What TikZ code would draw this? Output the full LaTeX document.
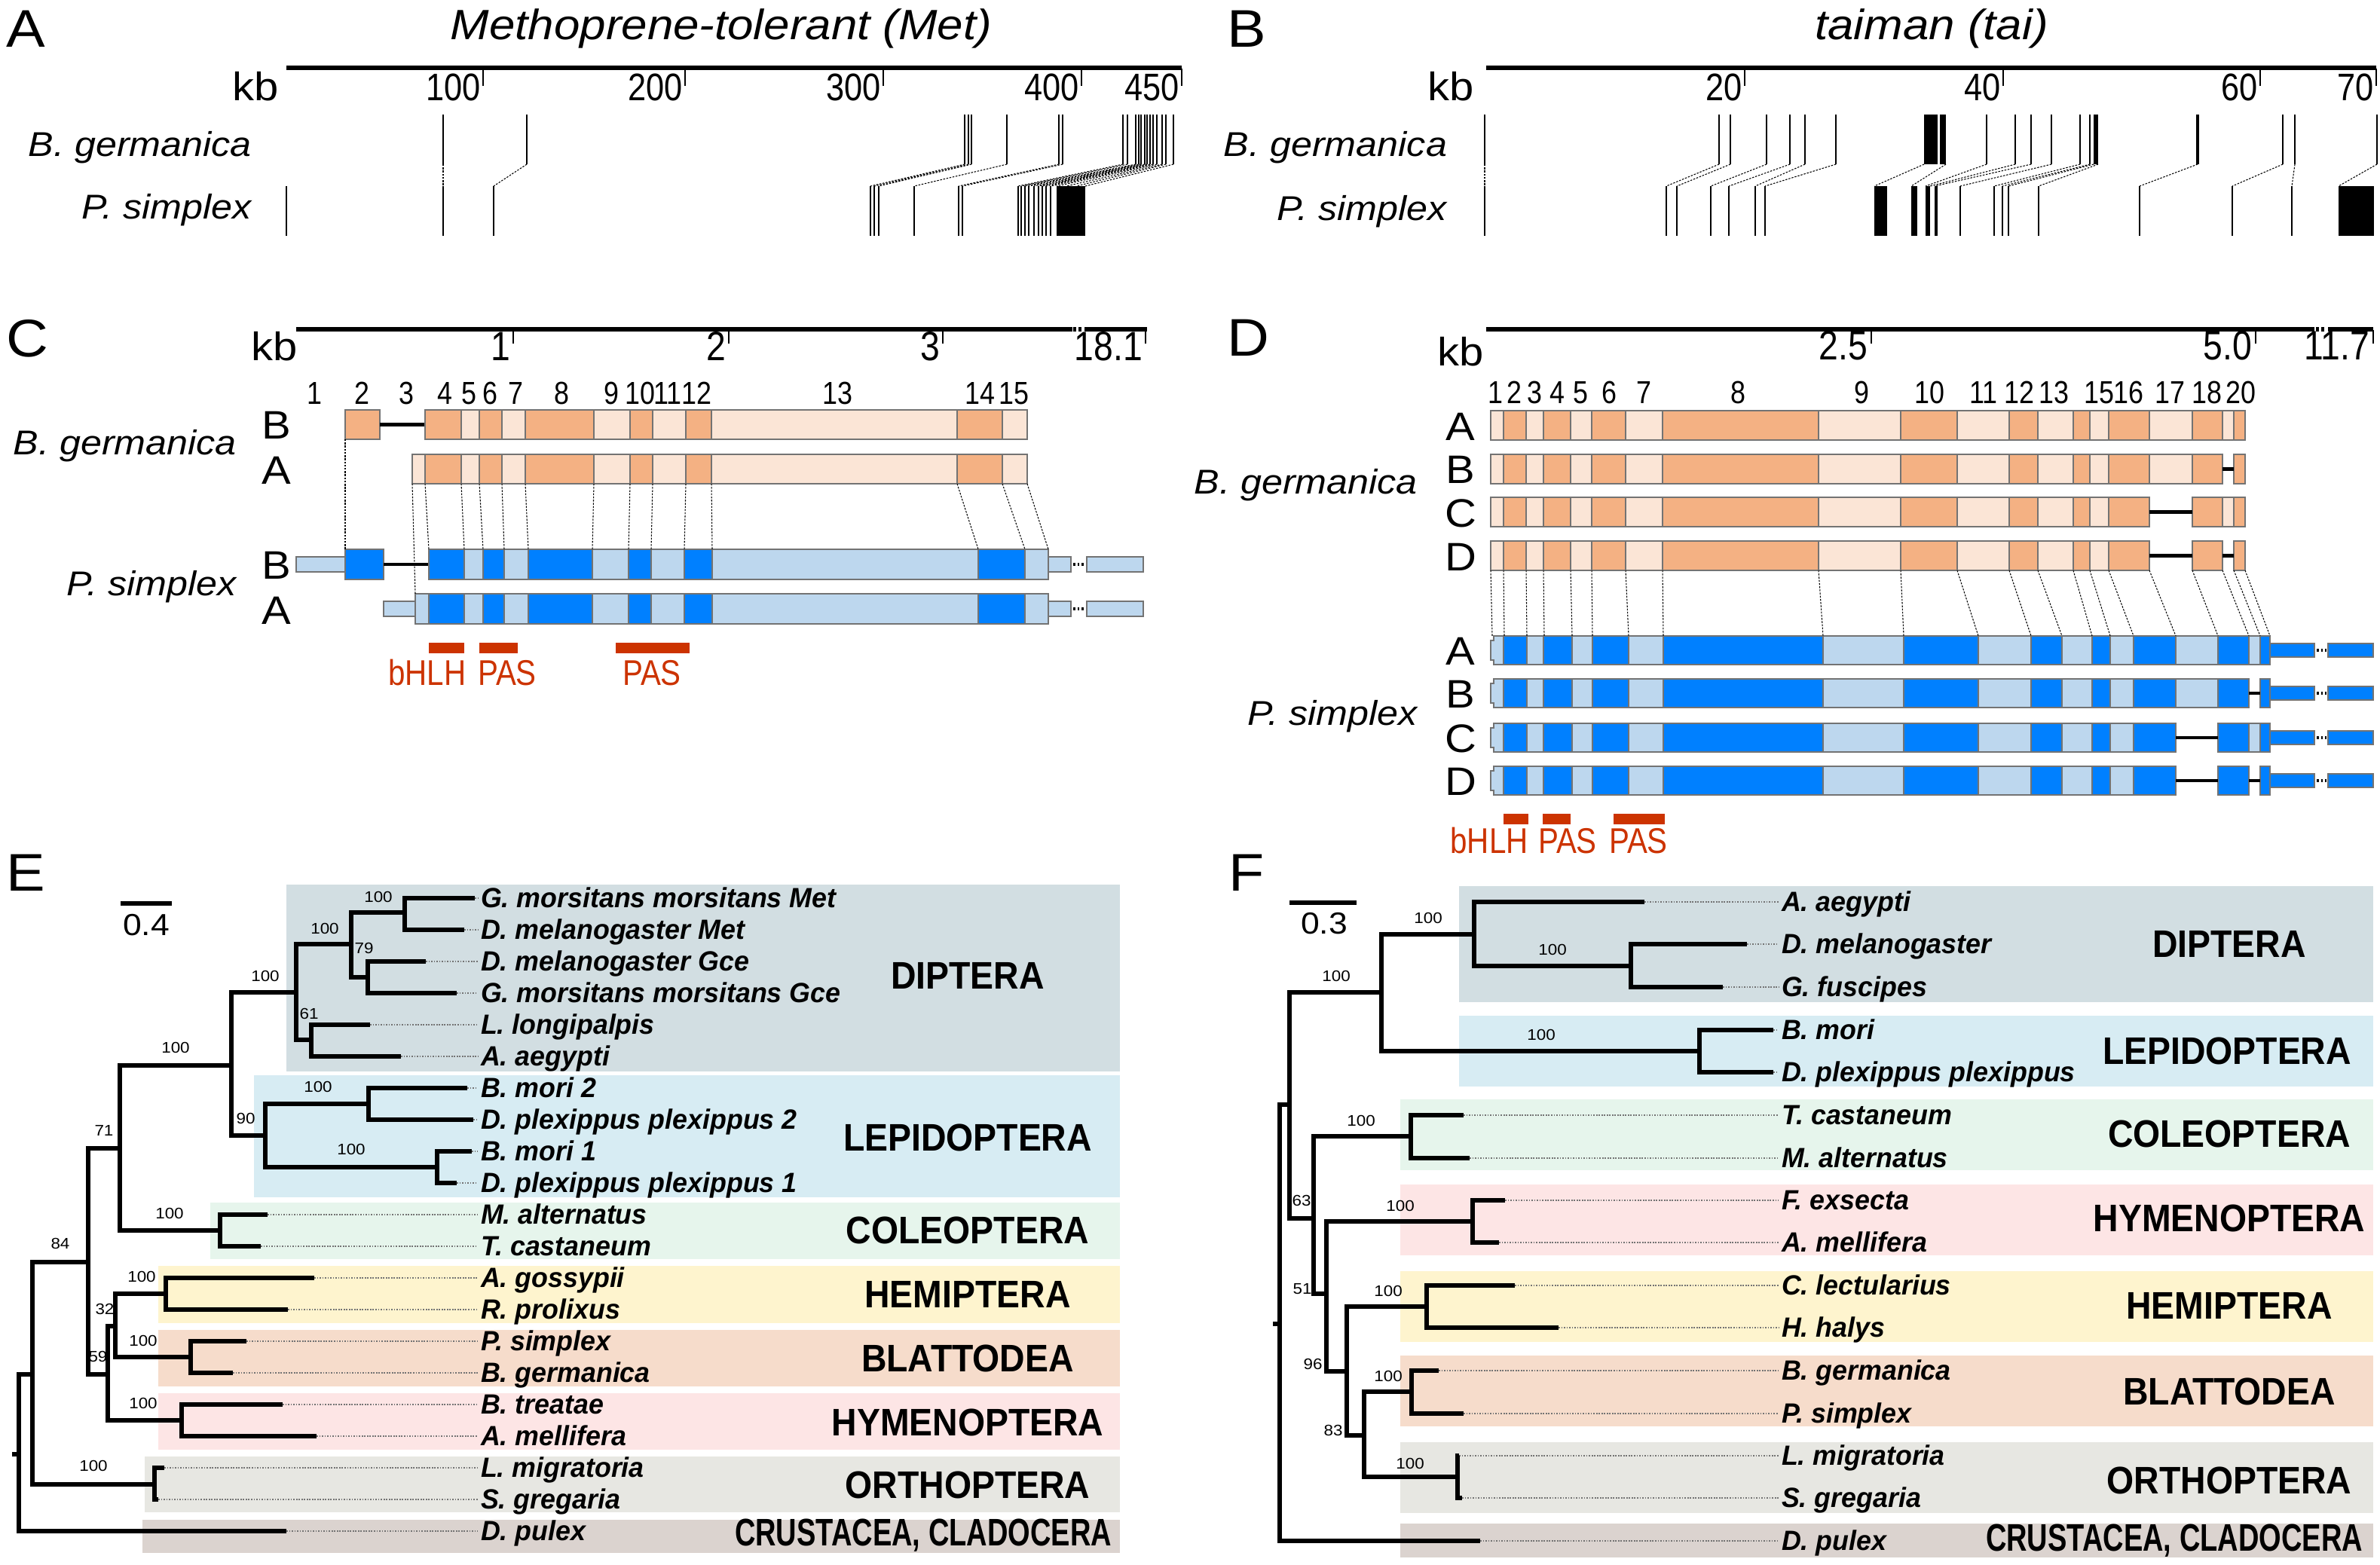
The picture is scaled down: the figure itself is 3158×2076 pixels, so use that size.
\documentclass[tikz,border=0pt]{standalone}
\usepackage{fontspec}
\usepackage{graphicx}
\setmainfont{Liberation Sans}[FakeStretch=1.1]
\newfontfamily\narr{Liberation Sans}[FakeStretch=0.85]
\newfontfamily\cond{Liberation Sans}[FakeStretch=0.91]
\newfontfamily\taxf{Liberation Sans}[FakeStretch=0.97]
\newcommand\fsz[1]{\fontsize{#1}{#1}\selectfont}
\definecolor{gD}{HTML}{F4B183}
\definecolor{gL}{HTML}{FBE5D6}
\definecolor{pD}{HTML}{0080FF}
\definecolor{pL}{HTML}{BDD7EE}
\definecolor{redd}{HTML}{CC3300}
\definecolor{cDip}{HTML}{D2DEE2}
\definecolor{cLep}{HTML}{D7ECF3}
\definecolor{cCol}{HTML}{E6F5EC}
\definecolor{cHem}{HTML}{FEF4CE}
\definecolor{cBla}{HTML}{F6DCCB}
\definecolor{cHym}{HTML}{FDE5E5}
\definecolor{cOrt}{HTML}{E7E7E2}
\definecolor{cCru}{HTML}{DBD3CF}
\begin{document}
\begin{tikzpicture}[x=0.1mm,y=-0.1mm,
  every node/.style={inner sep=0pt,outer sep=0pt},
  panel/.style={font=\fsz{20},anchor=base west},
  ttl/.style={font=\fsz{16}\itshape,anchor=base},
  kbl/.style={font=\fsz{15},anchor=base east},
  numA/.style={font=\narr\fsz{14.5},anchor=base east},
  numC/.style={font=\narr\fsz{15.5},anchor=base east},
  spec/.style={font=\fsz{13}\itshape,anchor=base east},
  rowl/.style={font=\fsz{15},anchor=base},
  exn/.style={font=\narr\fsz{12},anchor=base},
  dom/.style={font=\narr\fsz{13.5},text=redd,anchor=base},
  taxon/.style={font=\taxf\fsz{10.5}\bfseries\itshape,anchor=base west},
  clade/.style={font=\cond\fsz{14.5}\bfseries,anchor=center},
  boot/.style={font=\fsz{5.8},anchor=center},
  scl/.style={font=\fsz{11.5},anchor=center},
  axisl/.style={line width=1.5pt},
  tick/.style={line width=0.5pt},
  gline/.style={line width=0.6pt},
  conn/.style={line width=0.3pt,dash pattern=on 0.7pt off 0.5pt},
  exon/.style={draw=black!55,line width=0.35pt},
  intr/.style={line width=1.2pt},
  tree/.style={line width=1.5pt,line join=miter},
  leafdot/.style={black!55,line width=0.4pt,dash pattern=on 0.5pt off 0.5pt},
  redbar/.style={fill=redd}
]
\useasboundingbox (0,0) rectangle (3158,2076);

% ================= Panel A =================
\node[panel] (pA) at (8,62) {A};
\node[ttl] (tA) at (957,52) {Methoprene-tolerant (Met)};
\draw[axisl] (380,90) -- (1568,90);
\node[kbl] (kbA) at (370,133) {kb};
\foreach \t/\l in {641/100,909/200,1172/300,1435/400,1568/450}{
  \draw[tick] (\t,91) -- (\t,114);
  \node[numA] (nA\l) at (\t-3,133) {\l};}
\node[spec] (sAg) at (334,207) {B. germanica};
\node[spec] (sAp) at (334,290) {P. simplex};
\foreach \x in {588,699,1280,1285,1289,1336,1405,1410,1490,1496,1507,1511,1514,1519,1522,1526,1530,1535,1542,1547,1557}
  \draw[gline] (\x,152) -- (\x,218);
\foreach \x in {380,588,655,1155,1160,1166,1213,1272,1277,1351,1355,1360,1365,1372,1378,1383,1388,1394}
  \draw[gline] (\x,247) -- (\x,313);
\fill (1402,247) rectangle (1440,313);
\foreach \a/\b in {588/588,699/655,1280/1155,1285/1160,1289/1166,1336/1213,1405/1272,1410/1277,1490/1351,1496/1355,1507/1360,1511/1365,1514/1372,1519/1378,1522/1383,1526/1388,1530/1394,1535/1402,1542/1415,1547/1428,1557/1440}
  \draw[conn] (\a,218) -- (\b,247);

% ================= Panel B =================
\node[panel] (pB) at (1628,62) {B};
\node[ttl] (tB) at (2563,52) {taiman (tai)};
\draw[axisl] (1972,90) -- (3153,90);
\node[kbl] (kbB) at (1956,133) {kb};
\foreach \t/\l in {2315/20,2658/40,2999/60,3153/70}{
  \draw[tick] (\t,91) -- (\t,114);
  \node[numA] (nB\l) at (\t-3,133) {\l};}
\node[spec] (sBg) at (1920,207) {B. germanica};
\node[spec] (sBp) at (1920,292) {P. simplex};
\foreach \x in {1970,2281,2296,2344,2375,2395,2436,2636,2674,2695,2722,2760,2773,3029,3045,3154}
  \draw[gline] (\x,152) -- (\x,218);
\draw[line width=1pt] (2916,152) -- (2916,218);
\fill (2553,152) rectangle (2571,218);
\fill (2574,152) rectangle (2582,218);
\fill (2778,152) rectangle (2784,218);
\foreach \x in {1970,2211,2225,2270,2294,2329,2342,2601,2646,2657,2665,2705,2839,2962,3041}
  \draw[gline] (\x,247) -- (\x,313);
\fill (2487,247) rectangle (2504,313);
\fill (2536,247) rectangle (2544,313);
\fill (2555,247) rectangle (2561,313);
\fill (2567,247) rectangle (2571,313);
\fill (3103,247) rectangle (3150,313);
\foreach \a/\b in {1970/1970,2281/2211,2296/2225,2344/2270,2375/2294,2395/2329,2436/2342,2553/2487,2582/2536,2636/2555,2674/2561,2695/2567,2722/2601,2760/2646,2773/2657,2778/2665,2784/2705,2916/2839,3029/2962,3045/3041,3154/3103}
  \draw[conn] (\a,218) -- (\b,247);

% ================= Panel C =================
\node[panel] (pC) at (8,473) {C};
\draw[axisl] (393,437) -- (1423,437);
\draw[line width=1.5pt,dash pattern=on 1pt off 1pt] (1424,437) -- (1438,437);
\draw[axisl] (1439,437) -- (1522,437);
\node[kbl] (kbC) at (395,478) {kb};
\foreach \t/\l in {681/1,967/2,1251/3,1520/18.1}{
  \draw[tick] (\t,438) -- (\t,456);
  \node[numC] (nC\l) at (\t-4,478) {\l};}
\foreach \x/\l in {417/1,480/2,539/3,590/4,622/5,650/6,684/7,745/8,811/9,849/10,886/11,924/12,1111/13,1300/14,1345/15}
  \node[exn] (eC\l) at (\x,536) {\l};
\def\cgb{564/612/gD,612/636/gL,636/666/gD,666/697/gL,697/788/gD,788/836/gL,836/866/gD,866/910/gL,910/944/gD,944/1270/gL,1270/1330/gD,1330/1363/gL}
\def\cps{569/616/pD,616/641/pL,641/669/pD,669/701/pL,701/786/pD,786/834/pL,834/864/pD,864/908/pL,908/945/pD,945/1298/pL,1298/1360/pD,1360/1391/pL}
% B. germanica B
\draw[exon,fill=gD] (458,544) rectangle (504,583);
\draw[intr] (504,563.5) -- (564,563.5);
\foreach \a/\b/\c in \cgb {\draw[exon,fill=\c] (\a,544) rectangle (\b,583);}
% B. germanica A
\draw[exon,fill=gL] (547,603) rectangle (564,642);
\foreach \a/\b/\c in \cgb {\draw[exon,fill=\c] (\a,603) rectangle (\b,642);}
% P. simplex B
\draw[exon,fill=pL] (393,739) rectangle (458,759);
\draw[exon,fill=pD] (458,729) rectangle (509,769);
\draw[intr] (509,749) -- (569,749);
\foreach \a/\b/\c in \cps {\draw[exon,fill=\c] (\a,729) rectangle (\b,769);}
\draw[exon,fill=pL] (1391,739) rectangle (1421,759);
\draw[line width=1pt,dash pattern=on 0.8pt off 0.8pt] (1424,749) -- (1438,749);
\draw[exon,fill=pL] (1442,739) rectangle (1517,759);
% P. simplex A
\draw[exon,fill=pL] (509,798) rectangle (551,818);
\draw[exon,fill=pL] (551,788) rectangle (569,828);
\foreach \a/\b/\c in \cps {\draw[exon,fill=\c] (\a,788) rectangle (\b,828);}
\draw[exon,fill=pL] (1391,798) rectangle (1421,818);
\draw[line width=1pt,dash pattern=on 0.8pt off 0.8pt] (1424,808) -- (1438,808);
\draw[exon,fill=pL] (1442,798) rectangle (1517,818);
% row labels
\node[rowl] (rCgB) at (367,582) {B};
\node[rowl] (rCgA) at (367,642) {A};
\node[rowl] (rCpB) at (367,768) {B};
\node[rowl] (rCpA) at (367,828) {A};
\node[spec] (sCg) at (314,603) {B. germanica};
\node[spec] (sCp) at (314,790) {P. simplex};
% connectors
\draw[conn] (458,583) -- (458,729);
\draw[conn] (547,642) -- (551,788);
\foreach \a/\b in {564/569,612/616,636/641,666/669,697/701,788/786,836/834,866/864,910/908,944/945,1270/1298,1330/1360,1363/1391}
  \draw[conn] (\a,642) -- (\b,729);
% domains
\fill[redd] (569,853) rectangle (616,867);
\fill[redd] (636,853) rectangle (687,867);
\fill[redd] (817,853) rectangle (915,867);
\node[dom] (dC1) at (567,909) {bHLH};
\node[dom] (dC2) at (673,909) {PAS};
\node[dom] (dC3) at (865,909) {PAS};

% ================= Panel D =================
\node[panel] (pD) at (1628,472) {D};
\draw[axisl] (1972,437) -- (3071,437);
\draw[line width=1.5pt,dash pattern=on 1pt off 1pt] (3073,437) -- (3087,437);
\draw[axisl] (3089,437) -- (3149,437);
\node[kbl] (kbD) at (1969,485) {kb};
\foreach \t/\l in {2483/2.5,2993/5.0,3149/11.7}{
  \draw[tick] (\t,438) -- (\t,456);
  \node[numC] (nD\l) at (\t-5,477) {\l};}
\foreach \x/\l in {1984/1,2009/2,2036/3,2066/4,2097/5,2135/6,2181/7,2306/8,2470/9,2560/10,2632/11,2679/12,2725/13,2785/15,2824/16,2879/17,2928/18,2973/20}
  \node[exn] (eD\l) at (\x,535) {\l};
\def\dgb{1978/1995/gL,1995/2025/gD,2025/2048/gL,2048/2084/gD,2084/2112/gL,2112/2157/gD,2157/2206/gL,2206/2413/gD,2413/2522/gL,2522/2597/gD,2597/2666/gL,2666/2704/gD,2704/2751/gL,2751/2773/gD,2773/2798/gL,2798/2852/gD}
\def\dps{1995/2026/pD,2026/2048/pL,2048/2086/pD,2086/2113/pL,2113/2161/pD,2161/2207/pL,2207/2419/pD,2419/2526/pL,2526/2625/pD,2625/2695/pL,2695/2736/pD,2736/2776/pL,2776/2800/pD,2800/2831/pL,2831/2887/pD}
\foreach \t in {545,603,660,718}{
  \foreach \a/\b/\c in \dgb {\draw[exon,fill=\c] (\a,\t) rectangle (\b,\t+39);}
  \draw[exon,fill=gD] (2909,\t) rectangle (2949,\t+39);
  \draw[exon,fill=gD] (2964,\t) rectangle (2979,\t+39);}
\draw[exon,fill=gL] (2852,545) rectangle (2909,584);
\draw[exon,fill=gL] (2949,545) rectangle (2964,584);
\draw[exon,fill=gL] (2852,603) rectangle (2909,642);
\draw[intr] (2949,622.5) -- (2964,622.5);
\draw[intr] (2852,679.5) -- (2909,679.5);
\draw[exon,fill=gL] (2949,660) rectangle (2964,699);
\draw[intr] (2852,737.5) -- (2909,737.5);
\draw[intr] (2949,737.5) -- (2964,737.5);
\foreach \t in {844,901,960,1017}{
  \draw[exon,fill=pL] (1978,\t+6) -- (1982,\t+6) -- (1982,\t) -- (1995,\t) -- (1995,\t+38) -- (1982,\t+38) -- (1982,\t+32) -- (1978,\t+32) -- cycle;
  \foreach \a/\b/\c in \dps {\draw[exon,fill=\c] (\a,\t) rectangle (\b,\t+38);}
  \draw[exon,fill=pD] (2943,\t) rectangle (2984,\t+38);
  \draw[exon,fill=pD] (2999,\t) rectangle (3012,\t+38);
  \draw[exon,fill=pD] (3012,\t+10) rectangle (3071,\t+28);
  \draw[line width=1pt,dash pattern=on 0.8pt off 0.8pt] (3074,\t+19) -- (3087,\t+19);
  \draw[exon,fill=pD] (3089,\t+10) rectangle (3149,\t+28);}
\draw[exon,fill=pL] (2887,844) rectangle (2943,882);
\draw[exon,fill=pL] (2984,844) rectangle (2999,882);
\draw[exon,fill=pL] (2887,901) rectangle (2943,939);
\draw[intr] (2984,920) -- (2999,920);
\draw[intr] (2887,979) -- (2943,979);
\draw[exon,fill=pL] (2984,960) rectangle (2999,998);
\draw[intr] (2887,1036) -- (2943,1036);
\draw[intr] (2984,1036) -- (2999,1036);
\node[rowl] (rDgA) at (1938,584) {A};
\node[rowl] (rDgB) at (1938,641) {B};
\node[rowl] (rDgC) at (1938,699) {C};
\node[rowl] (rDgD) at (1938,757) {D};
\node[rowl] (rDpA) at (1938,882) {A};
\node[rowl] (rDpB) at (1938,939) {B};
\node[rowl] (rDpC) at (1938,998) {C};
\node[rowl] (rDpD) at (1938,1055) {D};
\node[spec] (sDg) at (1881,655) {B. germanica};
\node[spec] (sDp) at (1881,962) {P. simplex};
\foreach \a/\b in {1978/1980,1995/1996,2025/2026,2048/2049,2084/2086,2112/2113,2157/2161,2206/2207,2413/2419,2522/2526,2597/2625,2666/2695,2704/2736,2751/2776,2773/2800,2798/2831,2852/2887,2909/2943,2949/2984,2964/2999,2979/3012}
  \draw[conn] (\a,757) -- (\b,844);
\fill[redd] (1995,1080) rectangle (2028,1094);
\fill[redd] (2047,1080) rectangle (2084,1094);
\fill[redd] (2141,1080) rectangle (2209,1094);
\node[dom] (dD1) at (1976,1132) {bHLH};
\node[dom] (dD2) at (2080,1132) {PAS};
\node[dom] (dD3) at (2174,1132) {PAS};

% ================= Panel E =================
\node[panel] (pE) at (8,1182) {E};
\fill[cDip] (380,1174) rectangle (1486,1422);
\fill[cLep] (337,1427) rectangle (1486,1589);
\fill[cCol] (279,1596) rectangle (1486,1671);
\fill[cHem] (210,1680) rectangle (1486,1756);
\fill[cBla] (210,1765) rectangle (1486,1840);
\fill[cHym] (210,1849) rectangle (1486,1924);
\fill[cOrt] (192,1933) rectangle (1486,2007);
\fill[cCru] (189,2017) rectangle (1486,2061);
\node[clade] (cEdip) at (1284,1295) {DIPTERA};
\node[clade] (cElep) at (1284,1510) {LEPIDOPTERA};
\node[clade] (cEcol) at (1284,1633) {COLEOPTERA};
\node[clade] (cEhem) at (1284,1718) {HEMIPTERA};
\node[clade] (cEbla) at (1284,1803) {BLATTODEA};
\node[clade] (cEhym) at (1284,1888) {HYMENOPTERA};
\node[clade] (cEort) at (1284,1971) {ORTHOPTERA};
\node[clade] (cEcru) at (1225,2038) {\scalebox{0.82}[1]{CRUSTACEA, CLADOCERA}};
\draw[line width=1.5pt] (160,1199) -- (228,1199);
\node[scl] (sclE) at (194,1228) {0.4};
\coordinate (eR) at (25,1930);
\coordinate (eRs) at (16,1930);
\coordinate (e84) at (43,1824);
\coordinate (eA) at (117,1675);
\coordinate (eOrt) at (205,1970);
\coordinate (eB) at (159,1524);
\coordinate (eC) at (307,1414);
\coordinate (eD) at (393,1317);
\coordinate (eE) at (466,1253);
\coordinate (eF) at (537,1211);
\coordinate (e79) at (488,1297);
\coordinate (e61) at (413,1380);
\coordinate (eLep) at (352,1507);
\coordinate (eL1) at (489,1465);
\coordinate (eL2) at (580,1549);
\coordinate (eCol) at (292,1633);
\coordinate (e59) at (143,1824);
\coordinate (e32) at (153,1760);
\coordinate (eHem) at (220,1717);
\coordinate (eBla) at (253,1801);
\coordinate (eHym) at (241,1885);
\foreach \n/\x/\y/\t in {
  GmmMet/630/1192/{G. morsitans morsitans Met},
  DmMet/616/1234/{D. melanogaster Met},
  DmGce/565/1276/{D. melanogaster Gce},
  GmmGce/606/1318/{G. morsitans morsitans Gce},
  Llo/491/1360/{L. longipalpis},
  Aae/532/1402/{A. aegypti},
  Bm2/620/1444/{B. mori 2},
  Dp2/628/1486/{D. plexippus plexippus 2},
  Bm1/626/1528/{B. mori 1},
  Dp1/606/1570/{D. plexippus plexippus 1},
  Mal/355/1612/{M. alternatus},
  Tca/346/1654/{T. castaneum},
  Ago/417/1696/{A. gossypii},
  Rpr/382/1738/{R. prolixus},
  Psi/327/1780/{P. simplex},
  Bge/309/1822/{B. germanica},
  Btr/375/1864/{B. treatae},
  Ame/420/1906/{A. mellifera},
  Lmi/218/1948/{L. migratoria},
  Sgr/210/1990/{S. gregaria},
  Dpu/380/2032/{D. pulex}}{
  \coordinate (e\n) at (\x,\y);
  \node[taxon] (te\n) at (638,\y+12) {\t};
  \draw[leafdot] (e\n) -- (634,\y);}
\draw[tree] (eRs) -- (eR);
\foreach \p/\c in {eR/e84,eR/eDpu,e84/eA,e84/eOrt,eOrt/eLmi,eOrt/eSgr,eA/eB,eA/e59,eB/eC,eB/eCol,eC/eD,eC/eLep,eD/eE,eD/e61,eE/eF,eE/e79,eF/eGmmMet,eF/eDmMet,e79/eDmGce,e79/eGmmGce,e61/eLlo,e61/eAae,eLep/eL1,eLep/eL2,eL1/eBm2,eL1/eDp2,eL2/eBm1,eL2/eDp1,eCol/eMal,eCol/eTca,e59/e32,e59/eHym,e32/eHem,e32/eBla,eHem/eAgo,eHem/eRpr,eBla/ePsi,eBla/eBge,eHym/eBtr,eHym/eAme}
  \draw[tree] (\p) |- (\c);
\foreach \x/\y/\l in {80/1650/84,124/1945/100,138/1500/71,233/1390/100,352/1295/100,431/1232/100,502/1190/100,483/1258/79,410/1345/61,326/1484/90,422/1442/100,466/1525/100,225/1610/100,130/1800/59,139/1737/32,188/1694/100,190/1779/100,190/1862/100}
  \node[boot] at (\x,\y) {\l};

% ================= Panel F =================
\node[panel] (pF) at (1630,1182) {F};
\fill[cDip] (1936,1176) rectangle (3149,1330);
\fill[cLep] (1936,1348) rectangle (3149,1442);
\fill[cCol] (1858,1459) rectangle (3149,1553);
\fill[cHym] (1858,1572) rectangle (3149,1666);
\fill[cHem] (1858,1687) rectangle (3149,1781);
\fill[cBla] (1858,1799) rectangle (3149,1893);
\fill[cOrt] (1858,1914) rectangle (3149,2008);
\fill[cCru] (1858,2022) rectangle (3149,2067);
\node[clade] (cFdip) at (2958,1253) {DIPTERA};
\node[clade] (cFlep) at (2955,1395) {LEPIDOPTERA};
\node[clade] (cFcol) at (2958,1505) {COLEOPTERA};
\node[clade] (cFhym) at (2958,1617) {HYMENOPTERA};
\node[clade] (cFhem) at (2958,1733) {HEMIPTERA};
\node[clade] (cFbla) at (2958,1847) {BLATTODEA};
\node[clade] (cFort) at (2958,1965) {ORTHOPTERA};
\node[clade] (cFcru) at (2885,2045) {\scalebox{0.82}[1]{CRUSTACEA, CLADOCERA}};
\draw[line width=1.5pt] (1711,1198) -- (1800,1198);
\node[scl] (sclF) at (1757,1226) {0.3};
\coordinate (fR) at (1698,1757);
\coordinate (fRs) at (1689,1757);
\coordinate (f63) at (1711,1466);
\coordinate (fDL) at (1833,1317);
\coordinate (fDip) at (1956,1240);
\coordinate (fDG) at (2164,1282);
\coordinate (fLep) at (2255,1395);
\coordinate (f51) at (1743,1617);
\coordinate (fCol) at (1872,1508);
\coordinate (f96) at (1760,1717);
\coordinate (fHym) at (1954,1621);
\coordinate (f83) at (1787,1820);
\coordinate (fHem) at (1893,1734);
\coordinate (fBO) at (1810,1905);
\coordinate (fBla) at (1873,1847);
\coordinate (fOrt) at (1934,1960);
\foreach \n/\x/\y/\t in {
  Aae/2182/1197/{A. aegypti},
  Dme/2318/1253/{D. melanogaster},
  Gfu/2286/1310/{G. fuscipes},
  Bmo/2353/1367/{B. mori},
  Dpl/2353/1423/{D. plexippus plexippus},
  Tca/1942/1480/{T. castaneum},
  Mal/1950/1537/{M. alternatus},
  Fex/1997/1593/{F. exsecta},
  Ame/1989/1649/{A. mellifera},
  Cle/2010/1706/{C. lectularius},
  Hha/2068/1762/{H. halys},
  Bge/1909/1819/{B. germanica},
  Psi/1942/1876/{P. simplex},
  Lmi/1936/1932/{L. migratoria},
  Sgr/1940/1988/{S. gregaria},
  Dpu/1964/2045/{D. pulex}}{
  \coordinate (f\n) at (\x,\y);
  \node[taxon] (tf\n) at (2364,\y+12) {\t};
  \draw[leafdot] (f\n) -- (2360,\y);}
\draw[tree] (fRs) -- (fR);
\foreach \p/\c in {fR/f63,fR/fDpu,f63/fDL,f63/f51,fDL/fDip,fDL/fLep,fDip/fAae,fDip/fDG,fDG/fDme,fDG/fGfu,fLep/fBmo,fLep/fDpl,f51/fCol,f51/f96,fCol/fTca,fCol/fMal,f96/fHym,f96/f83,fHym/fFex,fHym/fAme,f83/fHem,f83/fBO,fHem/fCle,fHem/fHha,fBO/fBla,fBO/fOrt,fBla/fBge,fBla/fPsi,fOrt/fLmi,fOrt/fSgr}
  \draw[tree] (\p) |- (\c);
\foreach \x/\y/\l in {1773/1295/100,1895/1218/100,2060/1260/100,2045/1373/100,1727/1593/63,1806/1487/100,1728/1711/51,1858/1600/100,1742/1810/96,1842/1713/100,1769/1898/83,1842/1826/100,1871/1942/100}
  \node[boot] at (\x,\y) {\l};
\end{tikzpicture}
\end{document}
